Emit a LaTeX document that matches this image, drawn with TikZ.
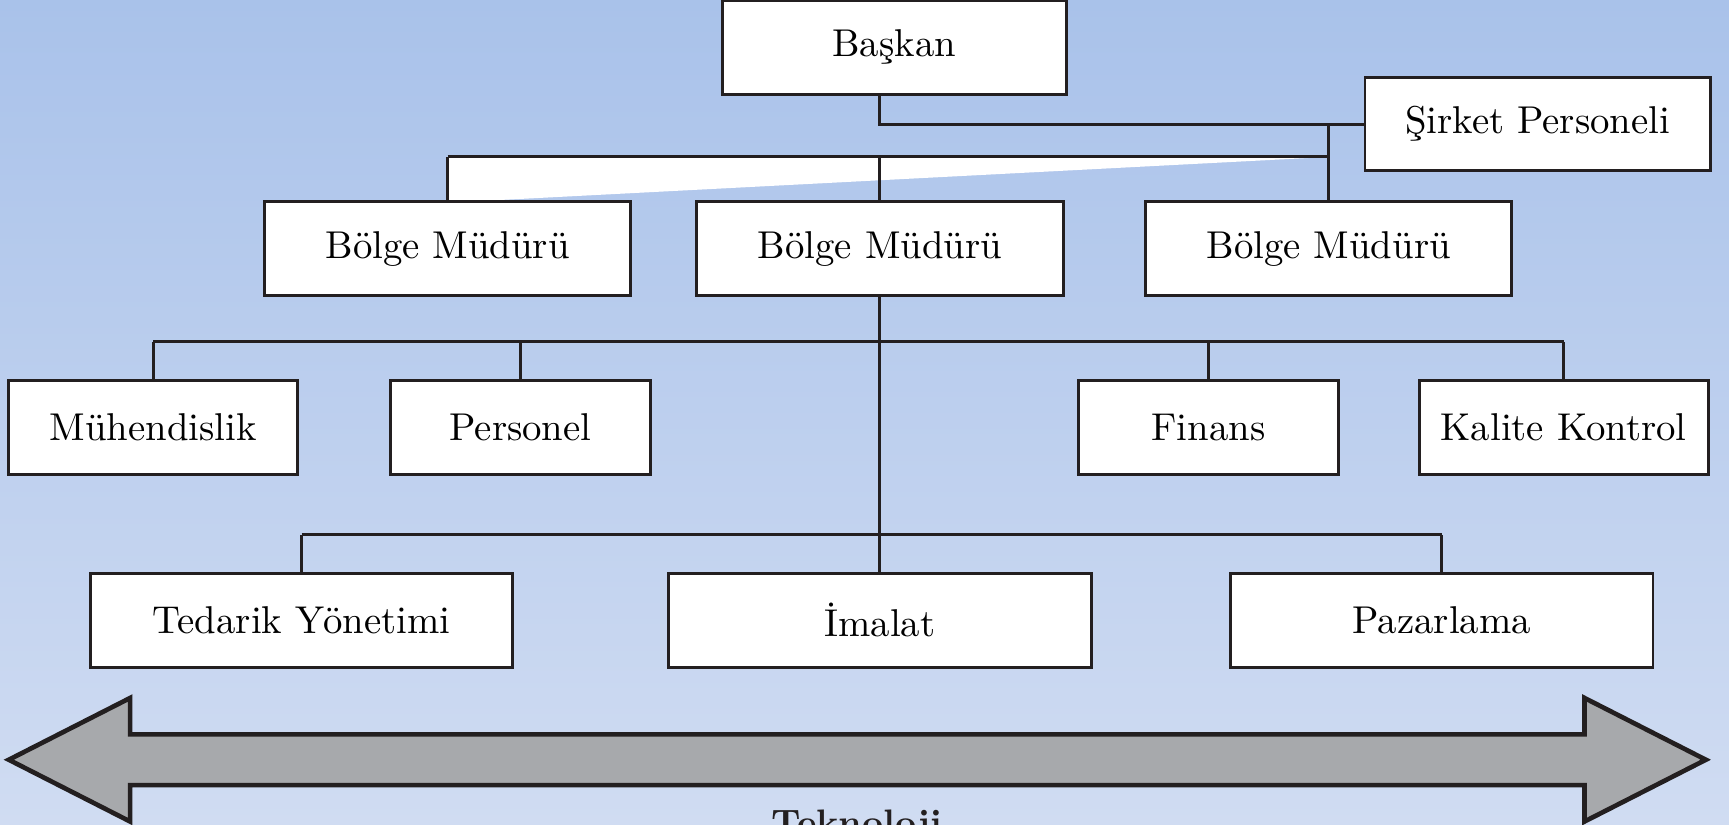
\documentclass[tikz,border=0pt]{standalone}
\usepackage{fontspec}
\begin{document}
\begin{tikzpicture}[x=0.01cm,y=-0.01cm,
  box/.style={draw=linec, fill=white, line width=0.75pt, minimum height=0.85cm, inner sep=0pt, font=\fontsize{10}{12}\selectfont},
  conn/.style={draw=linec, line width=0.75pt},
  bigarrow/.style={draw=linec, fill=arrowgray, line width=1.2pt, line join=miter}]
\definecolor{linec}{HTML}{231F20}
\definecolor{arrowgray}{HTML}{A7A9AC}
\definecolor{bgtop}{RGB}{169,194,234}
\definecolor{bgbot}{RGB}{208,220,242}
\useasboundingbox (0,0) rectangle (1568,748);
\clip (0,0) rectangle (1568,748);
\shade[top color=bgtop, bottom color=bgbot] (0,0) rectangle (1568,748);

% white wedge
\fill[white] (406,142) -- (1192,143) -- (422,183) -- (406,183) -- cycle;

% nodes
\node[box, minimum width=3.12cm] (baskan) at (811,43) {Başkan};
\node[box, minimum width=3.13cm] (sirket) at (1394.5,112.5) {Şirket Personeli};
\node[box, minimum width=3.32cm] (bolge1) at (406,225.5) {Bölge Müdürü};
\node[box, minimum width=3.32cm] (bolge2) at (798,225.5) {Bölge Müdürü};
\node[box, minimum width=3.32cm] (bolge3) at (1205,225.5) {Bölge Müdürü};
\node[box, minimum width=2.62cm] (muh) at (139,387.5) {Mühendislik};
\node[box, minimum width=2.36cm] (pers) at (472,387.5) {Personel};
\node[box, minimum width=2.36cm] (fin) at (1096,387.5) {Finans};
\node[box, minimum width=2.62cm] (kal) at (1418,387.5) {Kalite Kontrol};
\node[box, minimum width=3.83cm] (ted) at (273.5,562.5) {Tedarik Yönetimi};
\node[box, minimum width=3.83cm] (ima) at (798,562.5) {İmalat};
\node[box, minimum width=3.83cm] (paz) at (1307.5,562.5) {Pazarlama};

\coordinate (j1) at (798,142);
\coordinate (j2) at (798,310);
\coordinate (j3) at (798,485);

% connectors
\draw[conn] (baskan.south -| bolge2.north) |- (sirket.west);
\draw[conn] (bolge3.north) -- (bolge3.north |- sirket.west);
\draw[conn] (bolge1.north |- j1) -- (bolge3.north |- j1);
\draw[conn] (bolge1.north) -- (bolge1.north |- j1);
\draw[conn] (bolge2.north) -- (bolge2.north |- j1);
\draw[conn] (bolge2.south) -- (bolge2.south |- j3);
\draw[conn] (muh.north |- j2) -- (kal.north |- j2);
\draw[conn] (muh.north) -- (muh.north |- j2);
\draw[conn] (pers.north) -- (pers.north |- j2);
\draw[conn] (fin.north) -- (fin.north |- j2);
\draw[conn] (kal.north) -- (kal.north |- j2);
\draw[conn] (ted.north |- j3) -- (paz.north |- j3);
\draw[conn] (ted.north) -- (ted.north |- j3);
\draw[conn] (ima.north) -- (ima.north |- j3);
\draw[conn] (paz.north) -- (paz.north |- j3);

% technology arrow
\draw[bigarrow] (8,689) -- (118,633) -- (118,666) -- (1437,666) -- (1437,633) -- (1547,689) -- (1437,745) -- (1437,712) -- (118,712) -- (118,745) -- cycle;
\node[anchor=base, font=\fontsize{9.5}{11}\selectfont\bfseries, text=linec, inner sep=0pt] (tek) at (777,758) {Teknoloji};
\end{tikzpicture}
\end{document}
